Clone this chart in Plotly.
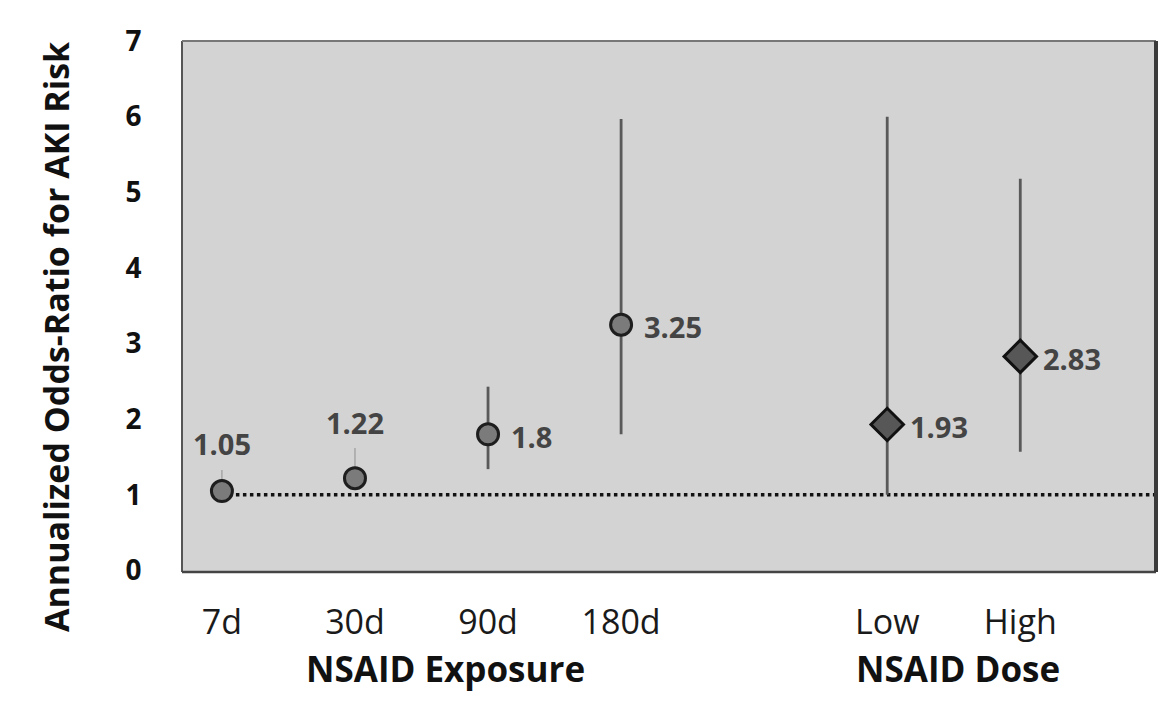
import plotly.graph_objects as go

# ---- data ----
categories = ["7d", "30d", "90d", "180d", "Low", "High"]
exposure_labels = ["7d", "30d", "90d", "180d"]
exposure_pos = [0, 1, 2, 3]
exposure_or = [1.05, 1.22, 1.8, 3.25]
exposure_upper = [1.33, 1.62, 2.43, 5.97]
exposure_lower = [0.98, 1.12, 1.34, 1.80]

dose_labels = ["Low", "High"]
dose_pos = [5, 6]
dose_or = [1.93, 2.83]
dose_upper = [6.0, 5.18]
dose_lower = [1.0, 1.57]

tick_vals = exposure_pos + dose_pos
tick_text = exposure_labels + dose_labels
reference_or = 1.0
group_titles = ["NSAID Exposure", "NSAID Dose"]
y_title = "Annualized Odds-Ratio for AKI Risk"

FONT = "Open Sans"

fig = go.Figure()

# reference dotted line at OR = 1
fig.add_trace(go.Scatter(
    x=[0, 7.05], y=[reference_or, reference_or], mode="lines",
    line=dict(color="#111111", width=3.5, dash="dot"),
    hoverinfo="skip", showlegend=False))

def err(vals, up, lo):
    return ([u - v for u, v in zip(up, vals)], [v - l for v, l in zip(vals, lo)])

# faint CIs for 7d / 30d
p, m = err(exposure_or[:2], exposure_upper[:2], exposure_lower[:2])
fig.add_trace(go.Scatter(
    x=exposure_pos[:2], y=exposure_or[:2], mode="markers",
    error_y=dict(type="data", array=p, arrayminus=m, color="#9a9a9a",
                 thickness=1.2, width=0),
    marker=dict(symbol="circle", size=21, color="#7b7b7b",
                line=dict(color="#1e1e1e", width=3)),
    showlegend=False))

p, m = err(exposure_or[2:], exposure_upper[2:], exposure_lower[2:])
fig.add_trace(go.Scatter(
    x=exposure_pos[2:], y=exposure_or[2:], mode="markers",
    error_y=dict(type="data", array=p, arrayminus=m, color="#595959",
                 thickness=2.8, width=0),
    marker=dict(symbol="circle", size=21, color="#7b7b7b",
                line=dict(color="#1e1e1e", width=3)),
    showlegend=False))

p, m = err(dose_or, dose_upper, dose_lower)
fig.add_trace(go.Scatter(
    x=dose_pos, y=dose_or, mode="markers",
    error_y=dict(type="data", array=p, arrayminus=m, color="#595959",
                 thickness=2.8, width=0),
    marker=dict(symbol="diamond", size=25, color="#575757",
                line=dict(color="#111111", width=3)),
    showlegend=False))

def fmt(v):
    return f"{v:.2f}".rstrip("0").rstrip(".")

annotations = []
all_pos = exposure_pos + dose_pos
all_or = exposure_or + dose_or
for i, (x, v) in enumerate(zip(all_pos, all_or)):
    if i < 2:
        annotations.append(dict(x=x, y=v, text=fmt(v), showarrow=False,
                                xanchor="center", yanchor="bottom",
                                yshift=26 if i == 0 else 34,
                                font=dict(family=FONT, size=29, color="#444444", weight="bold")))
    else:
        annotations.append(dict(x=x, y=v, text=fmt(v), showarrow=False,
                                xanchor="left", yanchor="middle",
                                xshift=21, yshift=-2,
                                font=dict(family=FONT, size=29, color="#444444", weight="bold")))

GROUP_Y = (572 - 668) / 531
annotations.append(dict(x=1.68, y=GROUP_Y, xref="x", yref="paper", text=group_titles[0],
                        showarrow=False, xanchor="center", yanchor="middle",
                        font=dict(family=FONT, size=35, color="#111111", weight="bold")))
annotations.append(dict(x=5.53, y=GROUP_Y, xref="x", yref="paper", text=group_titles[1],
                        showarrow=False, xanchor="center", yanchor="middle",
                        font=dict(family=FONT, size=35, color="#111111", weight="bold")))
# y-axis title (placed slightly below the plot centre, as in the reference)
annotations.append(dict(x=(56 - 182) / 974, y=(572 - 337) / 531, xref="paper", yref="paper",
                        text=y_title, textangle=-90, showarrow=False,
                        xanchor="center", yanchor="middle",
                        font=dict(family=FONT, size=34, color="#111111", weight="bold")))

shapes = [
    dict(type="line", xref="paper", yref="paper", x0=0, x1=0, y0=0, y1=1,
         line=dict(color="#555555", width=2)),
    dict(type="line", xref="paper", yref="paper", x0=0, x1=1, y0=1, y1=1,
         line=dict(color="#777777", width=2)),
    dict(type="line", xref="paper", yref="paper", x0=0, x1=1, y0=0, y1=0,
         line=dict(color="#444444", width=2.5)),
    dict(type="line", xref="paper", yref="paper", x0=1, x1=1, y0=0, y1=1,
         line=dict(color="#3a3a3a", width=4)),
]

fig.update_layout(
    width=1172, height=707,
    margin=dict(l=174, r=24, t=33, b=143),
    paper_bgcolor="white",
    plot_bgcolor="#d3d3d3",
    showlegend=False,
    annotations=annotations,
    shapes=shapes,
    xaxis=dict(range=[-0.30, 7.02], tickvals=tick_vals, ticktext=tick_text,
               showgrid=False, zeroline=False, showline=False, automargin=False,
               ticks="outside", ticklen=20, tickcolor="rgba(0,0,0,0)",
               tickfont=dict(family=FONT, size=34, color="#1a1a1a")),
    yaxis=dict(range=[-0.02, 7.0], tickvals=[0, 1, 2, 3, 4, 5, 6, 7],
               showgrid=False, zeroline=False, showline=False, automargin=False,
               ticks="outside", ticklen=34, tickcolor="rgba(0,0,0,0)",
               tickfont=dict(family=FONT, size=28, color="#111111", weight="bold")),
)

fig.write_html("out.html")
